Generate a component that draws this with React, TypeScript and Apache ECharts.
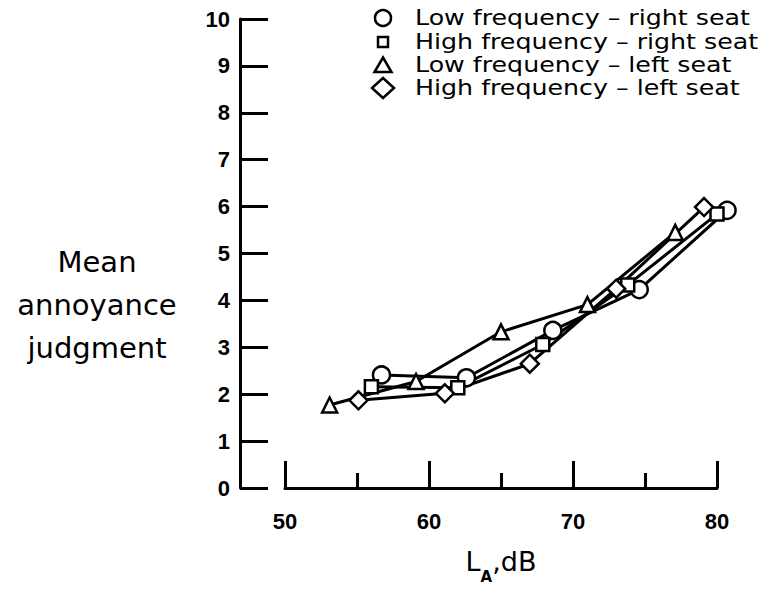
import React, { useEffect, useRef } from "react";
import * as echarts from "echarts";

// Sound level L_A (dB) and mean annoyance for each condition
const lowRightX = [56.7, 62.6, 68.6, 74.6, 80.7];
const lowRightY = [2.41, 2.35, 3.36, 4.23, 5.92];
const highRightX = [56.0, 62.0, 67.9, 73.8, 80.0];
const highRightY = [2.16, 2.14, 3.06, 4.33, 5.84];
const lowLeftX = [53.1, 59.1, 65.0, 71.0, 77.1];
const lowLeftY = [1.77, 2.27, 3.33, 3.91, 5.45];
const highLeftX = [55.1, 61.1, 67.0, 73.0, 79.1];
const highLeftY = [1.87, 2.02, 2.65, 4.25, 5.99];

const seriesNames = [
  "Low frequency – right seat",
  "High frequency – right seat",
  "Low frequency – left seat",
  "High frequency – left seat",
];

const yTitle = "Mean\nannoyance\njudgment";

const pairs = (xs: number[], ys: number[]) => xs.map((x, i) => [x, ys[i]]);

export default function App() {
  const ref = useRef<HTMLDivElement>(null);

  useEffect(() => {
    if (!ref.current) return;
    const chart = echarts.init(ref.current, null, { renderer: "svg" });
    const ink = "#000";
    const markStyle = { color: "#fff", borderColor: ink, borderWidth: 2.5 };
    const mk = (name: string, data: number[][], symbol: string, size: number) => ({
      type: "line",
      name,
      data,
      symbol,
      symbolSize: size,
      showAllSymbol: true,
      clip: false,
      lineStyle: { color: ink, width: 3 },
      itemStyle: markStyle,
    });

    // Hand-placed key in the upper right corner
    const rowY = [18, 42, 65, 88];
    const legendX = 383;
    const legendText = seriesNames.map((t, i) => ({
      type: "text",
      x: 415,
      y: rowY[i],
      scaleX: 1.15,
      style: {
        text: t,
        fill: ink,
        font: "22px 'DejaVu Sans'",
        lineHeight: 22,
        verticalAlign: "middle",
      },
    }));
    const legendMarks = [
      { type: "circle", shape: { cx: legendX, cy: rowY[0], r: 8 } },
      { type: "rect", shape: { x: legendX - 5, y: rowY[1] - 5, width: 10, height: 10 } },
      {
        type: "polygon",
        shape: {
          points: [
            [legendX, rowY[2] - 7.5],
            [legendX + 8.5, rowY[2] + 7],
            [legendX - 8.5, rowY[2] + 7],
          ],
        },
      },
      {
        type: "polygon",
        shape: {
          points: [
            [legendX, rowY[3] - 10],
            [legendX + 11, rowY[3]],
            [legendX, rowY[3] + 10],
            [legendX - 11, rowY[3]],
          ],
        },
      },
    ].map((m) => ({ ...m, style: { fill: "#fff", stroke: ink, lineWidth: 2.5 } }));

    // Vertical-axis title, set horizontally to the left of the scale
    const yTitleText = {
      type: "text",
      x: 97,
      y: 305,
      style: {
        text: yTitle,
        fill: ink,
        font: "29px 'DejaVu Sans'",
        lineHeight: 43,
        align: "center",
        verticalAlign: "middle",
      },
    };

    chart.setOption({
      animation: false,
      backgroundColor: "#fff",
      grid: { left: 285, right: 60, top: 19, bottom: 99 },
      xAxis: {
        type: "value",
        min: 50,
        max: 80,
        interval: 10,
        name: "{l|L}{s|A}{l|,dB}",
        nameLocation: "middle",
        nameGap: 60,
        nameTextStyle: {
          rich: {
            l: { fontFamily: "DejaVu Sans", fontSize: 27, lineHeight: 30, color: ink, verticalAlign: "top" },
            s: {
              fontFamily: "DejaVu Sans",
              fontWeight: "bold",
              fontSize: 15,
              lineHeight: 15,
              padding: [21, 0, 0, 0],
              color: ink,
              verticalAlign: "top",
            },
          },
        },
        axisLine: { show: true, lineStyle: { color: ink, width: 3 } },
        axisTick: { show: true, inside: true, length: 27, lineStyle: { color: ink, width: 3 } },
        minorTick: { show: true, splitNumber: 2, length: 15, lineStyle: { color: ink, width: 3 } },
        axisLabel: {
          margin: 22,
          color: ink,
          fontFamily: "Liberation Sans",
          fontWeight: "bold",
          fontSize: 22,
        },
        splitLine: { show: false },
        minorSplitLine: { show: false },
      },
      yAxis: {
        type: "value",
        min: 0,
        max: 10,
        interval: 1,
        offset: 45,
        axisLine: { show: true, lineStyle: { color: ink, width: 3 } },
        axisTick: { show: true, inside: true, length: 28, lineStyle: { color: ink, width: 3 } },
        axisLabel: {
          margin: 10,
          color: ink,
          fontFamily: "Liberation Sans",
          fontWeight: "bold",
          fontSize: 22,
        },
        splitLine: { show: false },
      },
      series: [
        mk(seriesNames[0], pairs(lowRightX, lowRightY), "circle", 17),
        mk(seriesNames[1], pairs(highRightX, highRightY), "rect", 13),
        mk(seriesNames[2], pairs(lowLeftX, lowLeftY), "triangle", 15),
        mk(seriesNames[3], pairs(highLeftX, highLeftY), "diamond", 18),
      ],
      graphic: [yTitleText, ...legendMarks, ...legendText],
    });

    return () => chart.dispose();
  }, []);

  return (
    <div
      ref={ref}
      style={{ position: "fixed", left: 0, top: 0, width: 777, height: 589 }}
    />
  );
}
